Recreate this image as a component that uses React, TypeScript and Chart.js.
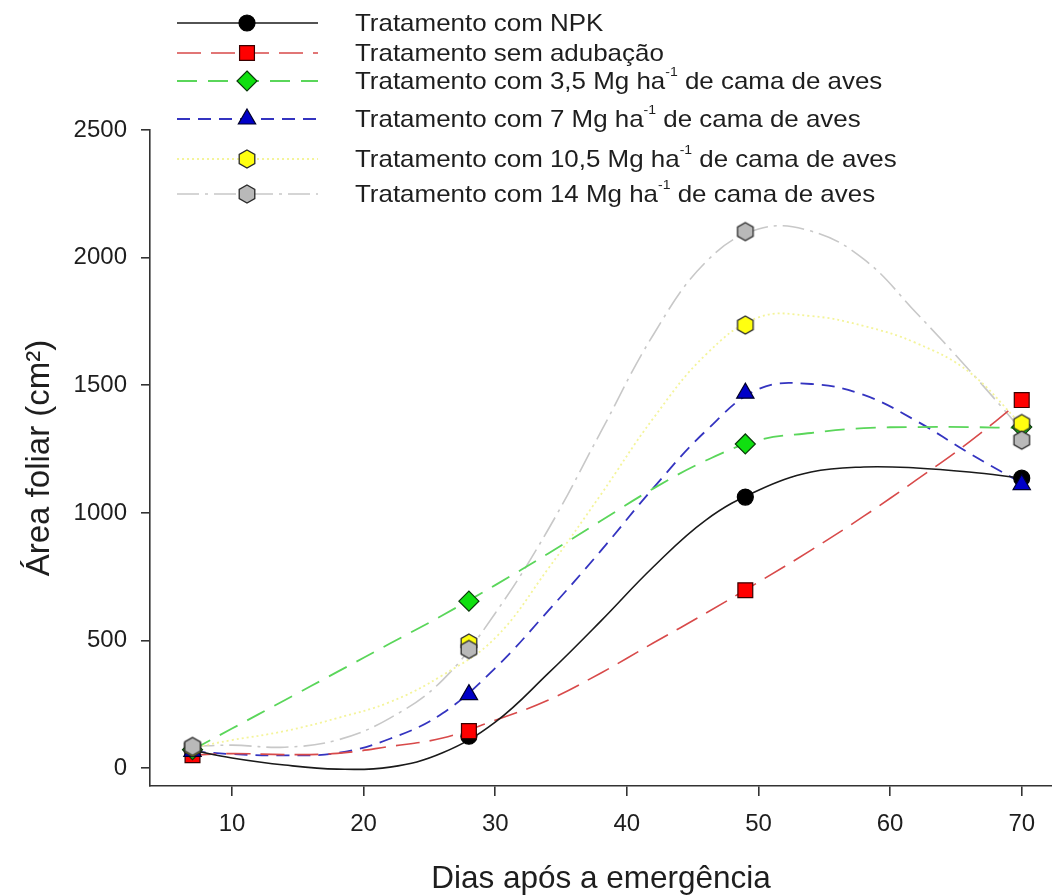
import React, { useEffect, useRef } from 'react';
import { Chart, registerables } from 'chart.js';

Chart.register(...registerables);

// ---------- data ----------
const days = [7, 28, 49, 70];
const npk = [70, 125, 1062, 1136];
const semAdubacao = [51, 145, 697, 1442];
const cama35 = [72, 654, 1270, 1336];
const cama7 = [66, 288, 1469, 1111];
const cama105 = [80, 490, 1736, 1350];
const cama14 = [85, 465, 2102, 1285];

// fitted curves at these days
const fitDays = [7, 10, 14, 18, 22, 26, 30, 34, 38, 42, 46, 50, 54, 58, 62, 66, 70];
const fitNpk = [70, 40, 12, -4, 4, 60, 180, 370, 575, 788, 972, 1089, 1160, 1180, 1176, 1160, 1136];
const fitSemAdubacao = [51, 57, 53, 58, 85, 118, 188, 266, 372, 490, 607, 729, 854, 987, 1129, 1277, 1442];
const fitCama35 = [72, 155, 266, 377, 488, 599, 717, 840, 968, 1095, 1205, 1285, 1313, 1332, 1336, 1336, 1332];
const fitCama7 = [66, 55, 50, 59, 115, 215, 392, 615, 850, 1097, 1321, 1485, 1505, 1462, 1360, 1234, 1117];
const fitCama105 = [80, 110, 145, 196, 259, 364, 510, 780, 1070, 1370, 1620, 1766, 1771, 1732, 1665, 1552, 1344];
const fitCama14 = [85, 90, 82, 110, 196, 345, 607, 933, 1315, 1697, 1983, 2112, 2104, 1994, 1783, 1560, 1324];

const seriesLabels = [
  'Tratamento com NPK',
  'Tratamento sem adubação',
  'Tratamento com 3,5 Mg ha^-1 de cama de aves',
  'Tratamento com 7 Mg ha^-1 de cama de aves',
  'Tratamento com 10,5 Mg ha^-1 de cama de aves',
  'Tratamento com 14 Mg ha^-1 de cama de aves',
];

const xTicks = [10, 20, 30, 40, 50, 60, 70];
const yTicks = [0, 500, 1000, 1500, 2000, 2500];
const xTitle = 'Dias após a emergência';
const yTitle = 'Área foliar (cm²)';

// ---------- styles ----------
const FONT = "'Liberation Sans', Arial, sans-serif";
const TEXT = '#1e1e1e';

function hexagon(fill: string): HTMLCanvasElement {
  const c = document.createElement('canvas');
  c.width = 20;
  c.height = 22;
  const ctx = c.getContext('2d')!;
  const cx = 10, cy = 11, r = 9;
  ctx.beginPath();
  for (let i = 0; i < 6; i++) {
    const a = -Math.PI / 2 + (i * Math.PI) / 3;
    const px = cx + r * Math.cos(a);
    const py = cy + r * Math.sin(a);
    if (i === 0) ctx.moveTo(px, py);
    else ctx.lineTo(px, py);
  }
  ctx.closePath();
  ctx.fillStyle = fill;
  ctx.fill();
  ctx.lineWidth = 1.3;
  ctx.strokeStyle = '#2a2a2a';
  ctx.stroke();
  return c;
}

type Style = {
  line: string;
  dash: number[];
  width: number;
  fill: string;
  edge: string;
  point: any;
  radius: number;
};

function makeStyles(): Style[] {
  return [
    { line: '#1a1a1a', dash: [], width: 1.6, fill: '#000000', edge: '#000000', point: 'circle', radius: 8 },
    { line: '#d84a4a', dash: [24, 10], width: 1.6, fill: '#ff0000', edge: '#3a0000', point: 'rect', radius: 10.5 },
    { line: '#5ad65a', dash: [20, 11], width: 1.8, fill: '#10e010', edge: '#0a3a0a', point: 'rectRot', radius: 10 },
    { line: '#3434c0', dash: [13, 8], width: 1.8, fill: '#0000c8', edge: '#00002a', point: 'triangle', radius: 10 },
    { line: '#f4f49a', dash: [2, 3], width: 1.8, fill: '#ffff00', edge: '#2a2a2a', point: hexagon('#ffff10'), radius: 9 },
    { line: '#c8c8c8', dash: [22, 6, 3, 6], width: 1.6, fill: '#b8b8b8', edge: '#2a2a2a', point: hexagon('#b9b9b9'), radius: 9 },
  ];
}

function drawMarker(ctx: CanvasRenderingContext2D, s: Style, x: number, y: number) {
  ctx.save();
  ctx.setLineDash([]);
  if (s.point instanceof HTMLCanvasElement) {
    ctx.drawImage(s.point, x - s.point.width / 2, y - s.point.height / 2);
    ctx.restore();
    return;
  }
  ctx.fillStyle = s.fill;
  ctx.strokeStyle = s.edge;
  ctx.lineWidth = 1.2;
  ctx.beginPath();
  const r = s.radius;
  if (s.point === 'circle') {
    ctx.arc(x, y, r, 0, Math.PI * 2);
  } else if (s.point === 'rect') {
    const h = r * Math.SQRT1_2;
    ctx.rect(x - h, y - h, 2 * h, 2 * h);
  } else if (s.point === 'rectRot') {
    ctx.moveTo(x, y - r);
    ctx.lineTo(x + r, y);
    ctx.lineTo(x, y + r);
    ctx.lineTo(x - r, y);
    ctx.closePath();
  } else if (s.point === 'triangle') {
    ctx.moveTo(x, y - r);
    ctx.lineTo(x + r * Math.sin((2 * Math.PI) / 3), y - r * Math.cos((2 * Math.PI) / 3));
    ctx.lineTo(x + r * Math.sin((4 * Math.PI) / 3), y - r * Math.cos((4 * Math.PI) / 3));
    ctx.closePath();
  }
  ctx.fill();
  ctx.stroke();
  ctx.restore();
}

const legendRowsY = [23, 53, 81, 119, 159, 194];

function makeLegendPlugin(styles: Style[]) {
  return {
    id: 'customLegend',
    afterDraw(chart: any) {
      const ctx: CanvasRenderingContext2D = chart.ctx;
      ctx.save();
      seriesLabels.forEach((label, i) => {
        const s = styles[i];
        const y = legendRowsY[i];
        ctx.save();
        ctx.strokeStyle = s.line;
        ctx.lineWidth = s.width;
        ctx.setLineDash(s.dash);
        ctx.beginPath();
        ctx.moveTo(177, y);
        ctx.lineTo(318, y);
        ctx.stroke();
        ctx.restore();
        drawMarker(ctx, s, 247, y);
        ctx.save();
        ctx.translate(355, y);
        ctx.scale(1.08, 1);
        ctx.fillStyle = TEXT;
        ctx.textBaseline = 'middle';
        ctx.textAlign = 'left';
        const parts = label.split('^-1');
        let x = 0;
        parts.forEach((p, k) => {
          ctx.font = `24px ${FONT}`;
          ctx.fillText(p, x, 1);
          x += ctx.measureText(p).width;
          if (k < parts.length - 1) {
            ctx.font = `13px ${FONT}`;
            ctx.fillText('-1', x, -9);
            x += ctx.measureText('-1').width;
          }
        });
        ctx.restore();
      });
      ctx.restore();
    },
  };
}

export default function App() {
  const ref = useRef<HTMLCanvasElement | null>(null);

  useEffect(() => {
    if (!ref.current) return;
    const styles = makeStyles();
    const obs = [npk, semAdubacao, cama35, cama7, cama105, cama14];
    const fits = [fitNpk, fitSemAdubacao, fitCama35, fitCama7, fitCama105, fitCama14];

    const lineSets = fits.map((f, i) => ({
      label: seriesLabels[i] + ' (ajuste)',
      data: fitDays.map((d, k) => ({ x: d, y: f[k] })),
      borderColor: styles[i].line,
      borderWidth: styles[i].width,
      borderDash: styles[i].dash,
      pointRadius: 0,
      tension: 0.4,
      fill: false,
      order: 20 + i,
    }));
    const pointSets = obs.map((o, i) => ({
      label: seriesLabels[i],
      data: days.map((d, k) => ({ x: d, y: o[k] })),
      showLine: false,
      pointStyle: styles[i].point,
      pointRadius: styles[i].radius,
      pointBackgroundColor: styles[i].fill,
      pointBorderColor: styles[i].edge,
      pointBorderWidth: 1.2,
      borderColor: styles[i].line,
      backgroundColor: styles[i].fill,
      clip: false,
      order: 10 - i,
    }));

    const chart = new Chart(ref.current, {
      type: 'line',
      data: { datasets: [...lineSets, ...pointSets] as any },
      options: {
        responsive: false,
        animation: false,
        layout: { autoPadding: false, padding: { top: 130, left: 0, right: 0, bottom: 0 } },
        plugins: { legend: { display: false }, tooltip: { enabled: false } },
        scales: {
          x: {
            type: 'linear',
            min: 3.77,
            max: 72.3,
            afterBuildTicks: (s: any) => {
              s.ticks = xTicks.map((v) => ({ value: v }));
            },
            afterFit: (s: any) => {
              s.height = 109;
              s.paddingRight = 0;
              s.paddingLeft = 0;
            },
            border: { display: true, color: '#333', width: 1.6 },
            grid: { display: true, drawOnChartArea: false, drawTicks: true, tickLength: 10, color: '#333', lineWidth: 1.6 },
            ticks: { font: { family: FONT, size: 24 }, color: TEXT, padding: 14, maxRotation: 0, callback: (v: any) => String(v) },
            title: { display: true, text: xTitle, font: { family: FONT, size: 31.5 }, color: TEXT, padding: { top: 0, bottom: -3 } },
          },
          y: {
            type: 'linear',
            min: -70,
            max: 2500,
            afterBuildTicks: (s: any) => {
              s.ticks = yTicks.map((v) => ({ value: v }));
            },
            afterFit: (s: any) => {
              s.width = 150;
            },
            border: { display: true, color: '#333', width: 1.6 },
            grid: { display: true, drawOnChartArea: false, drawTicks: true, tickLength: 9, color: '#333', lineWidth: 1.6 },
            ticks: { font: { family: FONT, size: 24 }, color: TEXT, padding: 14, callback: (v: any) => String(v) },
            title: { display: true, text: yTitle, font: { family: FONT, size: 33 }, color: TEXT, padding: { top: 20, bottom: 0 } },
          },
        },
      },
      plugins: [makeLegendPlugin(styles)],
    } as any);
    return () => chart.destroy();
  }, []);

  return (
    <div style={{ position: 'absolute', left: 0, top: 0, width: 1052, height: 895, background: '#fff' }}>
      <canvas ref={ref} width={1052} height={895} style={{ display: 'block' }} />
    </div>
  );
}
